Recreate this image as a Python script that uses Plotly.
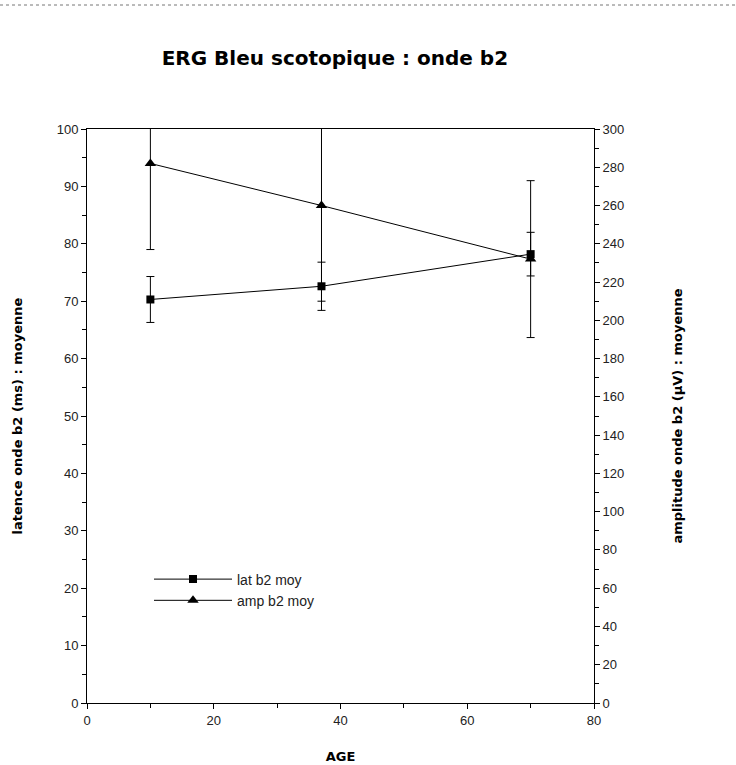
import plotly.graph_objects as go

# Data
age = [10, 37, 70]
lat_mean = [70.3, 72.6, 78.2]
lat_err = [4.0, 4.2, 3.8]
amp_mean = [282, 260, 232]
amp_err = [45, 50, 41]

title_text = "ERG Bleu scotopique : onde b2"
x_title = "AGE"
y1_title = "latence onde b2 (ms) : moyenne"
y2_title = "amplitude onde b2 (µV) : moyenne"
lat_name = "lat b2 moy"
amp_name = "amp b2 moy"

fig = go.Figure()
fig.add_trace(go.Scatter(
    x=age, y=lat_mean, name=lat_name, mode="lines+markers",
    line=dict(color="black", width=1),
    marker=dict(symbol="square", size=8, color="black"),
    error_y=dict(type="data", array=lat_err, color="black", thickness=1, width=4),
    yaxis="y",
))
fig.add_trace(go.Scatter(
    x=age, y=amp_mean, name=amp_name, mode="lines+markers",
    line=dict(color="black", width=1),
    marker=dict(symbol="triangle-up", size=10, color="black"),
    error_y=dict(type="data", array=amp_err, color="black", thickness=1, width=4),
    yaxis="y2",
))

tickfont = dict(family="Liberation Sans, Arial, sans-serif", size=13, color="#222")
titlefont = dict(family="DejaVu Sans, sans-serif", size=13, color="black", weight="bold")

fig.update_layout(
    width=736, height=765,
    margin=dict(l=87, r=142, t=129, b=62),
    paper_bgcolor="white", plot_bgcolor="white",
    title=dict(text=title_text, x=0.455, xanchor="center", y=1 - 58 / 765, yanchor="middle",
               font=dict(family="DejaVu Sans, sans-serif", size=20, color="black", weight="bold")),
    showlegend=True,
    legend=dict(x=(149 - 87) / 507, y=0.243, xanchor="left", yanchor="top", bgcolor="rgba(0,0,0,0)",
                font=dict(family="Liberation Sans, Arial, sans-serif", size=14, color="#222"),
                tracegroupgap=0, itemwidth=78),
    xaxis=dict(range=[0, 80], tick0=0, dtick=20, ticks="outside", ticklen=5, tickwidth=1,
               tickcolor="black", showline=True, linecolor="black", linewidth=1, mirror=True,
               showgrid=False, zeroline=False, tickfont=tickfont, automargin=False,
               minor=dict(dtick=10, ticks="outside", ticklen=4, tickcolor="black", showgrid=False),
               title=dict(text=x_title, font=titlefont, standoff=25)),
    yaxis=dict(range=[0, 100], tick0=0, dtick=10, ticks="outside", ticklen=5, tickwidth=1,
               tickcolor="black", showline=True, linecolor="black", linewidth=1,
               showgrid=False, zeroline=False, tickfont=tickfont, automargin=False,
               minor=dict(dtick=5, ticks="outside", ticklen=4, tickcolor="black", showgrid=False),
               title=dict(text=y1_title, font=titlefont, standoff=31)),
    yaxis2=dict(range=[0, 300], tick0=0, dtick=20, overlaying="y", side="right",
                ticks="outside", ticklen=5, tickwidth=1,
                tickcolor="black", showline=True, linecolor="black", linewidth=1,
                showgrid=False, zeroline=False, tickfont=tickfont, automargin=False,
                minor=dict(dtick=10, ticks="outside", ticklen=4, tickcolor="black", showgrid=False),
                title=dict(text=y2_title, font=titlefont, standoff=49)),
    shapes=[dict(type="line", xref="paper", yref="paper",
                 x0=-87 / 507, x1=(736 - 87) / 507, y0=(703 - 5) / 574, y1=(703 - 5) / 574,
                 line=dict(color="#777", width=1, dash="dot"))],
)

fig.write_html("out.html")
